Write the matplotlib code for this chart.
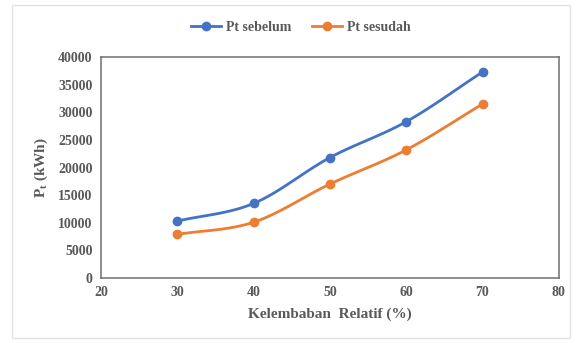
import matplotlib
matplotlib.use("Agg")
import matplotlib.pyplot as plt
import numpy as np
from matplotlib.patches import Rectangle

plt.rcParams['font.family'] = ['Liberation Serif', 'DejaVu Serif']
plt.rcParams['font.weight'] = 'bold'
plt.rcParams['axes.labelweight'] = 'bold'
plt.rcParams['mathtext.fontset'] = 'custom'
plt.rcParams['mathtext.rm'] = 'Liberation Serif:bold'
plt.rcParams['mathtext.it'] = 'Liberation Serif:bold'

# Data
kelembaban = [30, 40, 50, 60, 70]
pt_sebelum = [10300, 13500, 21800, 28300, 37300]
pt_sesudah = [7900, 10100, 17000, 23200, 31500]
xticks = [20, 30, 40, 50, 60, 70, 80]
yticks = [0, 5000, 10000, 15000, 20000, 25000, 30000, 35000, 40000]

text_col = '#595959'


def smooth(x, y, n=30):
    # Catmull-Rom style smoothing, like Excel's smoothed line
    x = np.asarray(x, float)
    y = np.asarray(y, float)
    px = np.concatenate([[2 * x[0] - x[1]], x, [2 * x[-1] - x[-2]]])
    py = np.concatenate([[2 * y[0] - y[1]], y, [2 * y[-1] - y[-2]]])
    xs, ys = [], []
    t = np.linspace(0, 1, n)
    for i in range(1, len(px) - 2):
        p0, p1, p2, p3 = [np.array([px[j], py[j]]) for j in range(i - 1, i + 3)]
        b1 = p1 + (p2 - p0) / 6
        b2 = p2 - (p3 - p1) / 6
        pts = ((1 - t) ** 3)[:, None] * p1 + (3 * (1 - t) ** 2 * t)[:, None] * b1 \
            + (3 * (1 - t) * t ** 2)[:, None] * b2 + (t ** 3)[:, None] * p2
        xs.extend(pts[:, 0])
        ys.extend(pts[:, 1])
    return xs, ys


fig = plt.figure(figsize=(5.78, 3.43), dpi=100)
ax = fig.add_axes([0.1747, 0.1895, 0.7923, 0.6443])

fig.patches.append(Rectangle((12 / 578, 5 / 343), 558 / 578, 333 / 343,
                             transform=fig.transFigure, fill=False,
                             edgecolor='#e3e3e3', linewidth=1))

series = [(pt_sebelum, '#4472c4', 'Pt sebelum'), (pt_sesudah, '#ed7d31', 'Pt sesudah')]
for vals, col, lab in series:
    sx, sy = smooth(kelembaban, vals)
    ax.plot(sx, sy, color=col, linewidth=2)
    ax.plot(kelembaban, vals, 'o', color=col, markersize=6)
    ax.plot([], [], '-o', color=col, linewidth=2, markersize=6, label=lab)

ax.set_xlim(20, 80)
ax.set_ylim(0, 40000)
ax.set_xticks(xticks)
ax.set_yticks(yticks)
ax.tick_params(length=0, labelsize=10, labelcolor=text_col, pad=6)
for s in ax.spines.values():
    s.set_color('#6e6e6e')
    s.set_linewidth(1.1)

ax.set_xlabel('Kelembaban  Relatif (%)', fontsize=11, color=text_col, labelpad=6)
ax.set_ylabel('P$_\\mathrm{t}$ (kWh)', fontsize=11, color=text_col, labelpad=6)

handles, labels = ax.get_legend_handles_labels()
fig.legend(handles, labels, loc='center', bbox_to_anchor=(0.52, 0.921), ncol=2,
           frameon=False, fontsize=10, labelcolor=text_col, handlelength=2.2,
           handletextpad=0.3, columnspacing=1.5)

fig.savefig('out.png', dpi=100)
